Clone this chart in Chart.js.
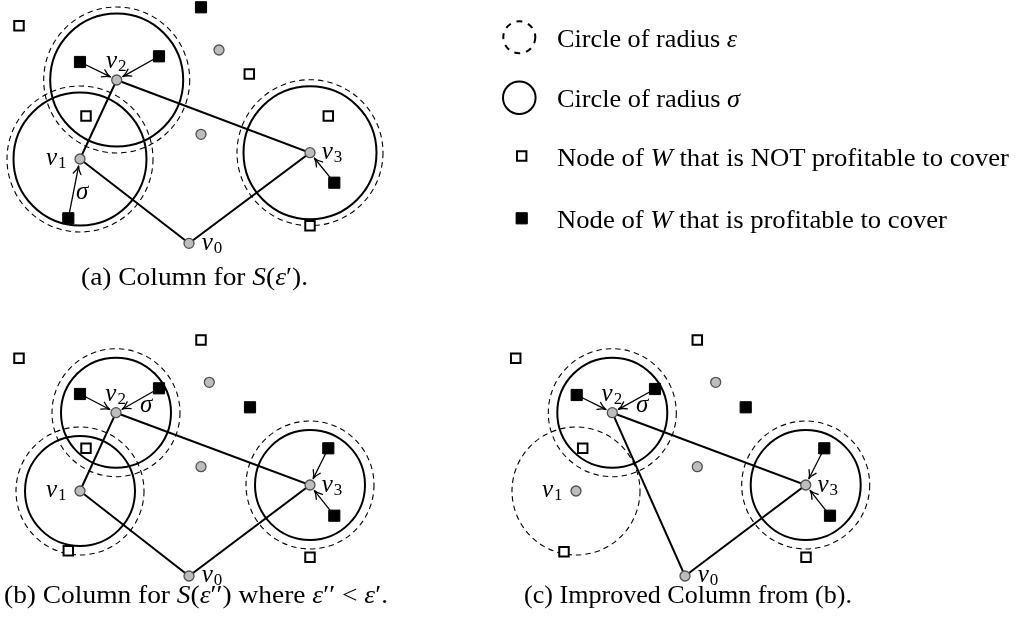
<!DOCTYPE html>
<html><head><meta charset="utf-8">
<script src="https://cdn.jsdelivr.net/npm/chart.js@4.4.1/dist/chart.umd.min.js"></script>
<style>
html,body{margin:0;padding:0;background:#fff;}
#wrap{position:relative;width:1025px;height:628px;overflow:hidden;background:#fff;}
#c{position:absolute;left:0;top:0;}
.t{position:absolute;white-space:nowrap;font-family:"Liberation Serif","Times New Roman",serif;font-size:25px;color:#000;line-height:1;transform-origin:0 0;}
.t i{font-style:italic;}
.t sub{font-size:17px;vertical-align:baseline;position:relative;top:3px;margin-left:1px;}
</style></head><body>
<div id="wrap"><canvas id="c" width="1025" height="628"></canvas></div>
<script>
// ---------------- data ----------------
const nodeNames = ['v0', 'v1', 'v2', 'v3'];

// panel (a): Column for S(eps')
const nodesA   = [[189, 243.3], [80, 159], [116.7, 80], [310, 152.7]];
const otherA   = [[219, 50], [201, 134.3]];
const hollowA  = [[19, 25.7], [249.3, 74], [86, 116], [328.3, 116], [310, 225.7]];
const filledA  = [[201, 7.3], [80, 62], [159, 56.3], [334.3, 182.7], [68.3, 218.3]];
const tourA    = [2, 1, 0, 3, 2];
const sigmaNodesA = [1, 2, 3];
const epsNodesA   = [1, 2, 3];
const sigmaA = 66.5, epsA = 73;
const arrowsA = [[1, 2], [2, 2], [3, 3], [4, 1]];
const sigmaLabelA = [76, 199.3];

// panel (b): Column for S(eps'')
const nodesB   = [[189, 576], [80, 491], [116, 412.7], [310, 485]];
const otherB   = [[209.3, 382.3], [201, 466.7]];
const hollowB  = [[19, 358.3], [201, 340], [86, 448.3], [68.3, 550.7], [310, 557.3]];
const filledB  = [[80, 394], [159, 388.3], [250, 407.3], [328.3, 448.3], [334.3, 515.7]];
const tourB    = [2, 1, 0, 3, 2];
const sigmaNodesB = [1, 2, 3];
const epsNodesB   = [1, 2, 3];
const sigmaB = 55, epsB = 64;
const arrowsB = [[0, 2], [1, 2], [3, 3], [4, 3]];
const sigmaLabelB = [140, 411.7];

// panel (c): Improved column
const nodesC   = [[685, 576], [576, 491], [612.3, 412.7], [805.7, 485]];
const otherC   = [[715.7, 382.3], [697.3, 466.7]];
const hollowC  = [[515.7, 358.3], [697.3, 340], [582.7, 448.3], [564, 551.7], [806, 557.3]];
const filledC  = [[576.7, 395], [655, 389], [745.7, 407.3], [824.3, 448.3], [830, 515.7]];
const tourC    = [2, 3, 0, 2];
const sigmaNodesC = [2, 3];
const epsNodesC   = [1, 2, 3];
const sigmaC = 55, epsC = 64;
const arrowsC = [[0, 2], [1, 2], [3, 3], [4, 3]];
const sigmaLabelC = [636, 411.7];

// legend & caption texts
const legendTexts = [
  'Circle of radius <i>ε</i>',
  'Circle of radius <i>σ</i>',
  'Node of <i>W</i> that is NOT profitable to cover',
  'Node of <i>W</i> that is profitable to cover'
];
const captions = [
  '(a) Column for <i>S</i>(<i>ε</i>′).',
  '(b) Column for <i>S</i>(<i>ε</i>′′) where <i>ε</i>′′ &lt; <i>ε</i>′.',
  '(c) Improved Column from (b).'
];

// ---------------- layout (not data) ----------------
const labelOffsets = [[12.7, 6.2], [-34, 5.8], [-10.7, -12], [11.7, 6.5]]; // left / baseline from node centre
const legendLayout = [[556.7, 46.7, 180], [556.7, 107, 183], [556.7, 166, 452], [556.7, 227.7, 390]];
const captionLayout = [[194, 285, 227], [196, 603, 384], [688, 603, 328]];

const panels = [
  {nodes: nodesA, other: otherA, hollow: hollowA, filled: filledA, tour: tourA, sig: sigmaNodesA, eps: epsNodesA, sigR: sigmaA, epsR: epsA, arrows: arrowsA, sigLab: sigmaLabelA},
  {nodes: nodesB, other: otherB, hollow: hollowB, filled: filledB, tour: tourB, sig: sigmaNodesB, eps: epsNodesB, sigR: sigmaB, epsR: epsB, arrows: arrowsB, sigLab: sigmaLabelB},
  {nodes: nodesC, other: otherC, hollow: hollowC, filled: filledC, tour: tourC, sig: sigmaNodesC, eps: epsNodesC, sigR: sigmaC, epsR: epsC, arrows: arrowsC, sigLab: sigmaLabelC}
];
const xy = p => ({x: p[0], y: p[1]});

const diagramPlugin = {
  id: 'diagram',
  beforeDatasetsDraw(chart) {
    const ctx = chart.ctx, xs = chart.scales.x, ys = chart.scales.y;
    const px = v => xs.getPixelForValue(v), py = v => ys.getPixelForValue(v);
    const circle = (c, r, dashed, lw) => {
      const rp = px(c[0] + r) - px(c[0]);
      ctx.save();
      ctx.lineWidth = lw; ctx.strokeStyle = '#000';
      ctx.setLineDash(dashed ? [5.5, 4] : []);
      ctx.beginPath(); ctx.arc(px(c[0]), py(c[1]), rp, 0, Math.PI * 2); ctx.stroke();
      ctx.restore();
    };
    panels.forEach(p => {
      p.eps.forEach(i => circle(p.nodes[i], p.epsR, true, 1.1));
      p.sig.forEach(i => circle(p.nodes[i], p.sigR, false, 2));
      ctx.save();
      ctx.strokeStyle = '#000'; ctx.lineWidth = 1.3; ctx.lineCap = 'round'; ctx.lineJoin = 'round';
      p.arrows.forEach(([f, n]) => {
        const x1 = px(p.filled[f][0]), y1 = py(p.filled[f][1]);
        const x2 = px(p.nodes[n][0]), y2 = py(p.nodes[n][1]);
        const a = Math.atan2(y2 - y1, x2 - x1);
        const tx = x2 - 7 * Math.cos(a), ty = y2 - 7 * Math.sin(a);
        ctx.beginPath(); ctx.moveTo(x1, y1); ctx.lineTo(tx - 0.5 * Math.cos(a), ty - 0.5 * Math.sin(a)); ctx.stroke();
        const L = 9, w = 0.45;
        ctx.beginPath();
        ctx.moveTo(tx - L * Math.cos(a - w), ty - L * Math.sin(a - w));
        ctx.quadraticCurveTo(tx - 3.5 * Math.cos(a - 0.12), ty - 3.5 * Math.sin(a - 0.12), tx, ty);
        ctx.quadraticCurveTo(tx - 3.5 * Math.cos(a + 0.12), ty - 3.5 * Math.sin(a + 0.12), tx - L * Math.cos(a + w), ty - L * Math.sin(a + w));
        ctx.stroke();
      });
      ctx.restore();
    });
    // legend symbols
    ctx.save();
    ctx.strokeStyle = '#000';
    ctx.lineWidth = 2; ctx.setLineDash([6, 6]);
    ctx.beginPath(); ctx.arc(519.3, 37.3, 16, 0, Math.PI * 2); ctx.stroke();
    ctx.setLineDash([]);
    ctx.beginPath(); ctx.arc(519.3, 97.7, 16.3, 0, Math.PI * 2); ctx.stroke();
    ctx.lineWidth = 2; ctx.fillStyle = '#fff';
    ctx.beginPath(); ctx.rect(521.7 - 4.7, 156 - 4.7, 9.4, 9.4); ctx.fill(); ctx.stroke();
    ctx.fillStyle = '#000'; ctx.lineWidth = 1;
    ctx.beginPath(); ctx.rect(521.7 - 5.6, 218.3 - 5.6, 11.2, 11.2); ctx.fill(); ctx.stroke();
    ctx.restore();
  }
};

const all = k => panels.flatMap(p => p[k].map(xy));
const datasets = [
  {label: 'tour nodes', data: panels.flatMap(p => p.nodes.map(xy)), pointRadius: 5, pointBackgroundColor: '#bdbdbd', pointBorderColor: '#505050', pointBorderWidth: 1.3, showLine: false},
  {label: 'other nodes', data: all('other'), pointRadius: 5, pointBackgroundColor: '#bdbdbd', pointBorderColor: '#505050', pointBorderWidth: 1.3, showLine: false},
  {label: 'not profitable', data: all('hollow'), pointStyle: 'rect', pointRadius: 6.7, pointBackgroundColor: '#fff', pointBorderColor: '#000', pointBorderWidth: 2, showLine: false},
  {label: 'profitable', data: all('filled'), pointStyle: 'rect', pointRadius: 7.9, pointBackgroundColor: '#000', pointBorderColor: '#000', pointBorderWidth: 1, showLine: false}
];
panels.forEach((p, k) => datasets.push({
  label: 'tour ' + k, data: p.tour.map(i => xy(p.nodes[i])), showLine: true, borderColor: '#000', borderWidth: 2,
  pointRadius: 0, fill: false, tension: 0
}));

const chart = new Chart(document.getElementById('c'), {
  type: 'scatter',
  data: {datasets},
  options: {
    responsive: false, animation: false, devicePixelRatio: 1, events: [],
    layout: {padding: 0, autoPadding: false},
    plugins: {legend: {display: false}, tooltip: {enabled: false}},
    elements: {point: {hoverRadius: 0}},
    datasets: {scatter: {clip: false}},
    scales: {
      x: {type: 'linear', min: 0, max: 1025, display: false},
      y: {type: 'linear', min: 0, max: 628, reverse: true, display: false}
    }
  },
  plugins: [diagramPlugin]
});

// ---------------- text ----------------
const wrap = document.getElementById('wrap');
function placeText(html, x, baseline, width, centered) {
  const el = document.createElement('div');
  el.className = 't'; el.innerHTML = html; el.style.left = '0px'; el.style.top = '0px';
  wrap.appendChild(el);
  const m = document.createElement('span');
  m.style.cssText = 'display:inline-block;width:0;height:0;vertical-align:baseline;';
  el.appendChild(m);
  const off = m.offsetTop;
  el.removeChild(m);
  const w = el.getBoundingClientRect().width;
  let left = x;
  if (width) {
    el.style.transform = 'scaleX(' + (width / w) + ')';
    if (centered) left = x - width / 2;
  }
  el.style.left = left + 'px';
  el.style.top = (baseline - off) + 'px';
}
legendTexts.forEach((t, i) => placeText(t, legendLayout[i][0], legendLayout[i][1], legendLayout[i][2], false));
captions.forEach((t, i) => placeText(t, captionLayout[i][0], captionLayout[i][1], captionLayout[i][2], true));
const xs = chart.scales.x, ys = chart.scales.y;
panels.forEach(p => {
  p.nodes.forEach((n, i) => {
    const name = nodeNames[i];
    placeText('<i>' + name[0] + '</i><sub>' + name.slice(1) + '</sub>',
      xs.getPixelForValue(n[0]) + labelOffsets[i][0], ys.getPixelForValue(n[1]) + labelOffsets[i][1]);
  });
  placeText('<i>σ</i>', xs.getPixelForValue(p.sigLab[0]), ys.getPixelForValue(p.sigLab[1]));
});
</script>
</body></html>
